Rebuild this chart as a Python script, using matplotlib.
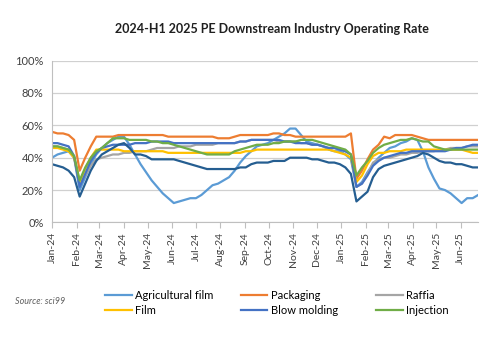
import pandas as pd
import matplotlib
matplotlib.use("Agg")
import matplotlib.pyplot as plt

plt.rcParams['font.family'] = ['Lato', 'DejaVu Sans']

# weekly operating rate, %
weeks = pd.date_range('2024-01-04', periods=78, freq='7D')

agricultural_film = [40, 42, 43, 44, 40, 20, 28, 36, 42, 46, 49, 51, 53, 53, 48, 42, 36, 31, 26, 22,
                     18, 15, 12, 13, 14, 15, 15, 17, 20, 23, 24, 26, 28, 32, 37, 41, 44, 47, 48, 49,
                     51, 53, 55, 58, 58, 54, 50, 49, 48, 47, 45, 44, 44, 42, 39, 22, 25, 31, 36, 40,
                     43, 46, 47, 49, 50, 52, 51, 44, 34, 27, 21, 20, 18, 15, 12, 15, 15, 17]
packaging = [56, 55, 55, 54, 51, 32, 40, 47, 53, 53, 53, 53, 54, 54, 54, 54, 54, 54, 54, 54,
             54, 53, 53, 53, 53, 53, 53, 53, 53, 53, 52, 52, 52, 53, 54, 54, 54, 54, 54, 54,
             55, 55, 54, 54, 53, 53, 53, 53, 53, 53, 53, 53, 53, 53, 55, 27, 32, 39, 45, 48,
             53, 52, 54, 54, 54, 54, 53, 52, 51, 51, 51, 51, 51, 51, 51, 51, 51, 51]
raffia = [47, 47, 46, 45, 40, 24, 29, 35, 39, 40, 41, 42, 42, 43, 43, 44, 44, 44, 45, 46,
          46, 46, 46, 47, 47, 47, 48, 48, 48, 48, 49, 49, 49, 49, 50, 50, 51, 51, 51, 51,
          51, 50, 50, 50, 50, 49, 49, 48, 48, 47, 46, 46, 45, 44, 42, 22, 24, 30, 37, 39,
          40, 40, 41, 42, 42, 43, 43, 44, 44, 44, 45, 45, 46, 46, 46, 47, 47, 47]
film = [46, 46, 45, 44, 40, 25, 33, 40, 45, 45, 45, 45, 45, 44, 44, 44, 44, 44, 44, 44,
        44, 43, 43, 43, 43, 43, 43, 43, 43, 43, 43, 43, 43, 43, 43, 44, 44, 45, 45, 45,
        45, 45, 45, 45, 45, 45, 45, 45, 45, 45, 45, 44, 43, 42, 40, 25, 29, 36, 41, 43,
        43, 44, 44, 44, 45, 45, 45, 45, 45, 45, 45, 45, 45, 45, 45, 44, 43, 43]
blow_molding = [49, 49, 48, 47, 41, 22, 30, 38, 43, 46, 47, 48, 48, 48, 48, 49, 49, 49, 50, 50,
                50, 50, 49, 49, 49, 49, 49, 49, 49, 49, 49, 49, 49, 49, 50, 50, 51, 51, 51, 51,
                51, 51, 50, 50, 49, 49, 49, 48, 48, 47, 46, 46, 45, 44, 42, 22, 24, 29, 35, 38,
                40, 41, 42, 43, 43, 44, 44, 44, 44, 44, 44, 44, 45, 46, 46, 47, 48, 48]
injection = [47, 47, 46, 45, 41, 26, 34, 40, 44, 46, 49, 52, 52, 52, 51, 51, 51, 51, 50, 50,
             49, 49, 48, 47, 46, 45, 44, 43, 42, 42, 42, 42, 42, 44, 45, 46, 47, 48, 48, 48,
             49, 49, 50, 50, 50, 51, 51, 51, 50, 49, 48, 47, 46, 45, 42, 29, 34, 38, 43, 46,
             48, 49, 50, 51, 51, 52, 51, 50, 50, 47, 46, 45, 45, 45, 45, 45, 45, 45]
other = [36, 35, 34, 32, 28, 16, 24, 32, 38, 42, 44, 46, 48, 49, 46, 42, 42, 41, 39, 39,
         39, 39, 39, 38, 37, 36, 35, 34, 33, 33, 33, 33, 33, 33, 34, 34, 36, 37, 37, 37,
         38, 38, 38, 40, 40, 40, 40, 39, 39, 38, 37, 37, 36, 34, 30, 13, 16, 19, 28, 33,
         35, 36, 37, 38, 39, 40, 41, 43, 42, 40, 38, 37, 37, 36, 36, 35, 34, 34]

series = [
    ('Agricultural film', agricultural_film, '#5B9BD5'),
    ('Packaging', packaging, '#ED7D31'),
    ('Raffia', raffia, '#A5A5A5'),
    ('Film', film, '#FFC000'),
    ('Blow molding', blow_molding, '#4472C4'),
    ('Injection', injection, '#70AD47'),
    ('_other', other, '#255E91'),
]

fig = plt.figure(figsize=(4.86, 3.46), dpi=100)
ax = fig.add_axes([0.107, 0.357, 0.877, 0.468])

lines = {}
for name, vals, col in series:
    ln, = ax.plot(weeks, vals, color=col, lw=1.6, label=name)
    lines[name] = ln

ax.set_xlim(weeks[0], weeks[-1])
ax.set_ylim(0, 100)
ax.set_yticks(range(0, 101, 20))
ax.set_yticklabels([f'{v}%' for v in range(0, 101, 20)], fontsize=8, color='#404040')
ax.yaxis.grid(True, color='#D0D0D0', lw=0.9)
ax.set_axisbelow(True)

ticks = [weeks[0] + pd.DateOffset(months=k) for k in range(18)]
ax.set_xticks(ticks)
ax.set_xticklabels([t.strftime('%b-%y') for t in ticks], rotation=90, fontsize=7.5, color='#404040')
ax.tick_params(axis='y', length=0, pad=6)
ax.tick_params(axis='x', length=4, color='#BFBFBF', pad=3)

for s in ['top', 'right']:
    ax.spines[s].set_visible(False)
for s in ['left', 'bottom']:
    ax.spines[s].set_color('#BFBFBF')

fig.text(0.56, 0.915, '2024-H1 2025 PE Downstream Industry Operating Rate',
         ha='center', va='center', fontsize=9, fontweight='bold', color='#202020')

# legend in three columns, each placed on its own
columns = [(['Agricultural film', 'Film'], 0.217),
           (['Packaging', 'Blow molding'], 0.495),
           (['Raffia', 'Injection'], 0.774)]
for names, x0 in columns:
    fig.legend([lines[n] for n in names], names, loc='center left',
               bbox_to_anchor=(x0, 0.125), frameon=False, fontsize=8,
               handlelength=2.4, handletextpad=0.3, labelspacing=0.35,
               borderaxespad=0, borderpad=0)

fig.text(0.03, 0.13, 'Source: sci99', fontsize=6.5, style='italic', color='#606060',
         ha='left', va='center')

fig.savefig('out.png', dpi=100)
